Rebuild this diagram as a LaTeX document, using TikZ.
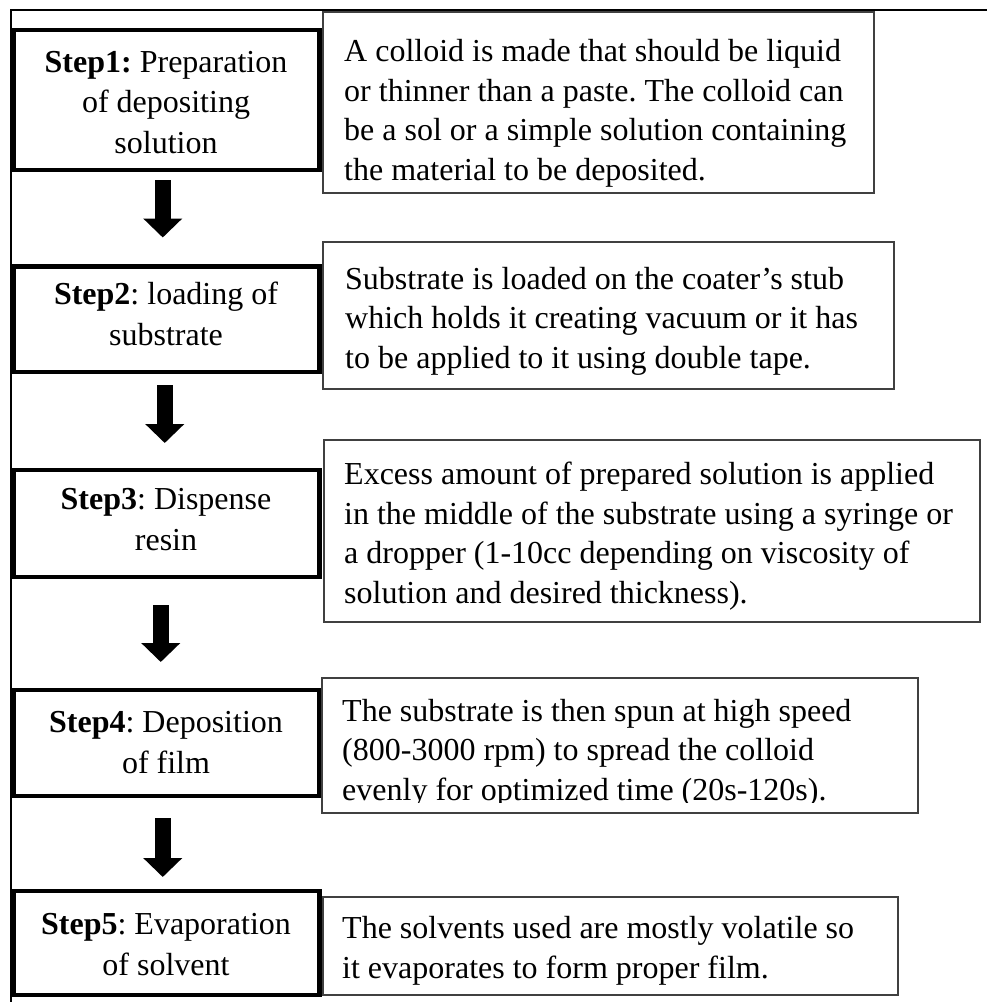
\documentclass[tikz,border=0pt]{standalone}
\usepackage{fontspec}
\setmainfont{Liberation Serif}[Ligatures=NoCommon]
\usetikzlibrary{arrows.meta,calc}
\frenchspacing
\begin{document}
\begin{tikzpicture}[x=1pt,y=-1pt,
  frameline/.style={draw=black,line width=2.5pt},
  stepbox/.style={draw=black,line width=4.5pt,inner sep=0pt,outer sep=0pt},
  infobox/.style={draw=black!75,line width=1.3pt,inner sep=0pt,outer sep=0pt},
  steptext/.style={align=center,anchor=base,inner sep=0pt,font=\fontsize{32}{40.5}\selectfont},
  infotext/.style={align=left,anchor=base west,inner sep=0pt,font=\fontsize{32}{39.5}\selectfont},
  flow/.style={line width=16pt,-{Triangle[width=38pt,length=19pt]}}]
\useasboundingbox (0,0) rectangle (987,1002);

% outer frame (top and left sides only)
\draw[frameline] (11,1002) -- (11,10) -- (987,10);

% step boxes
\node[stepbox,minimum width=305.5pt,minimum height=140pt] (s1) at (166.75,100) {};
\node[stepbox,minimum width=305.5pt,minimum height=105.5pt] (s2) at (166.75,319.25) {};
\node[stepbox,minimum width=305.5pt,minimum height=107pt] (s3) at (166.75,523.5) {};
\node[stepbox,minimum width=305.5pt,minimum height=106pt] (s4) at (166.75,743) {};
\node[stepbox,minimum width=305.5pt,minimum height=104pt] (s5) at (166.75,943) {};

% step labels, placed by the baseline of their last line
\node[steptext] (s1t) at (166,153) {\textbf{Step1:} Preparation\\of depositing\\solution};
\node[steptext] (s2t) at (166,345) {\textbf{Step2}: loading of\\substrate};
\node[steptext] (s3t) at (166,550) {\textbf{Step3}: Dispense\\resin};
\node[steptext] (s4t) at (166,773) {\textbf{Step4}: Deposition\\of film};
\node[steptext] (s5t) at (166,975) {\textbf{Step5}: Evaporation\\of solvent};

% description boxes
\node[infobox,minimum width=551pt,minimum height=181pt] (t1) at (598.5,102.5) {};
\node[infobox,minimum width=571pt,minimum height=147pt] (t2) at (608.5,315.5) {};
\node[infobox,minimum width=656pt,minimum height=182pt] (t3) at (652,531) {};
\node[infobox,minimum width=596pt,minimum height=135pt] (t4) at (620,745.5) {};
\node[infobox,minimum width=575pt,minimum height=98pt] (t5) at (610.5,946) {};

% descriptions, placed by the baseline of their last line
\node[infotext] (d1) at (344,180) {A colloid is made that should be liquid\\or thinner than a paste. The colloid can\\be a sol or a simple solution containing\\the material to be deposited.};
\node[infotext] (d2) at (345,368) {Substrate is loaded on the coater’s stub\\which holds it creating vacuum or it has\\to be applied to it using double tape.};
\node[infotext] (d3) at (344,603) {Excess amount of prepared solution is applied\\in the middle of the substrate using a syringe or\\a dropper (1-10cc depending on viscosity of\\solution and desired thickness).};
\begin{scope}
  \clip (322,678) rectangle (918,802);
  \node[infotext] (d4) at (342,800) {The substrate is then spun at high speed\\(800-3000 rpm) to spread the colloid\\evenly for optimized time (20s-120s).};
\end{scope}
\node[infotext] (d5) at (342,978) {The solvents used are mostly volatile so\\it evaporates to form proper film.};

% block arrows between the steps
\draw[flow,shorten <=10pt,shorten >=29pt] ([xshift=-4pt]s1.south) -- ([xshift=-4pt]s2.north);
\draw[flow,shorten <=13pt,shorten >=27pt] ([xshift=-2pt]s2.south) -- ([xshift=-2pt]s3.north);
\draw[flow,shorten <=28pt,shorten >=28pt] ([xshift=-6pt]s3.south) -- ([xshift=-6pt]s4.north);
\draw[flow,shorten <=22pt,shorten >=14pt] ([xshift=-4pt]s4.south) -- ([xshift=-4pt]s5.north);
\end{tikzpicture}
\end{document}
